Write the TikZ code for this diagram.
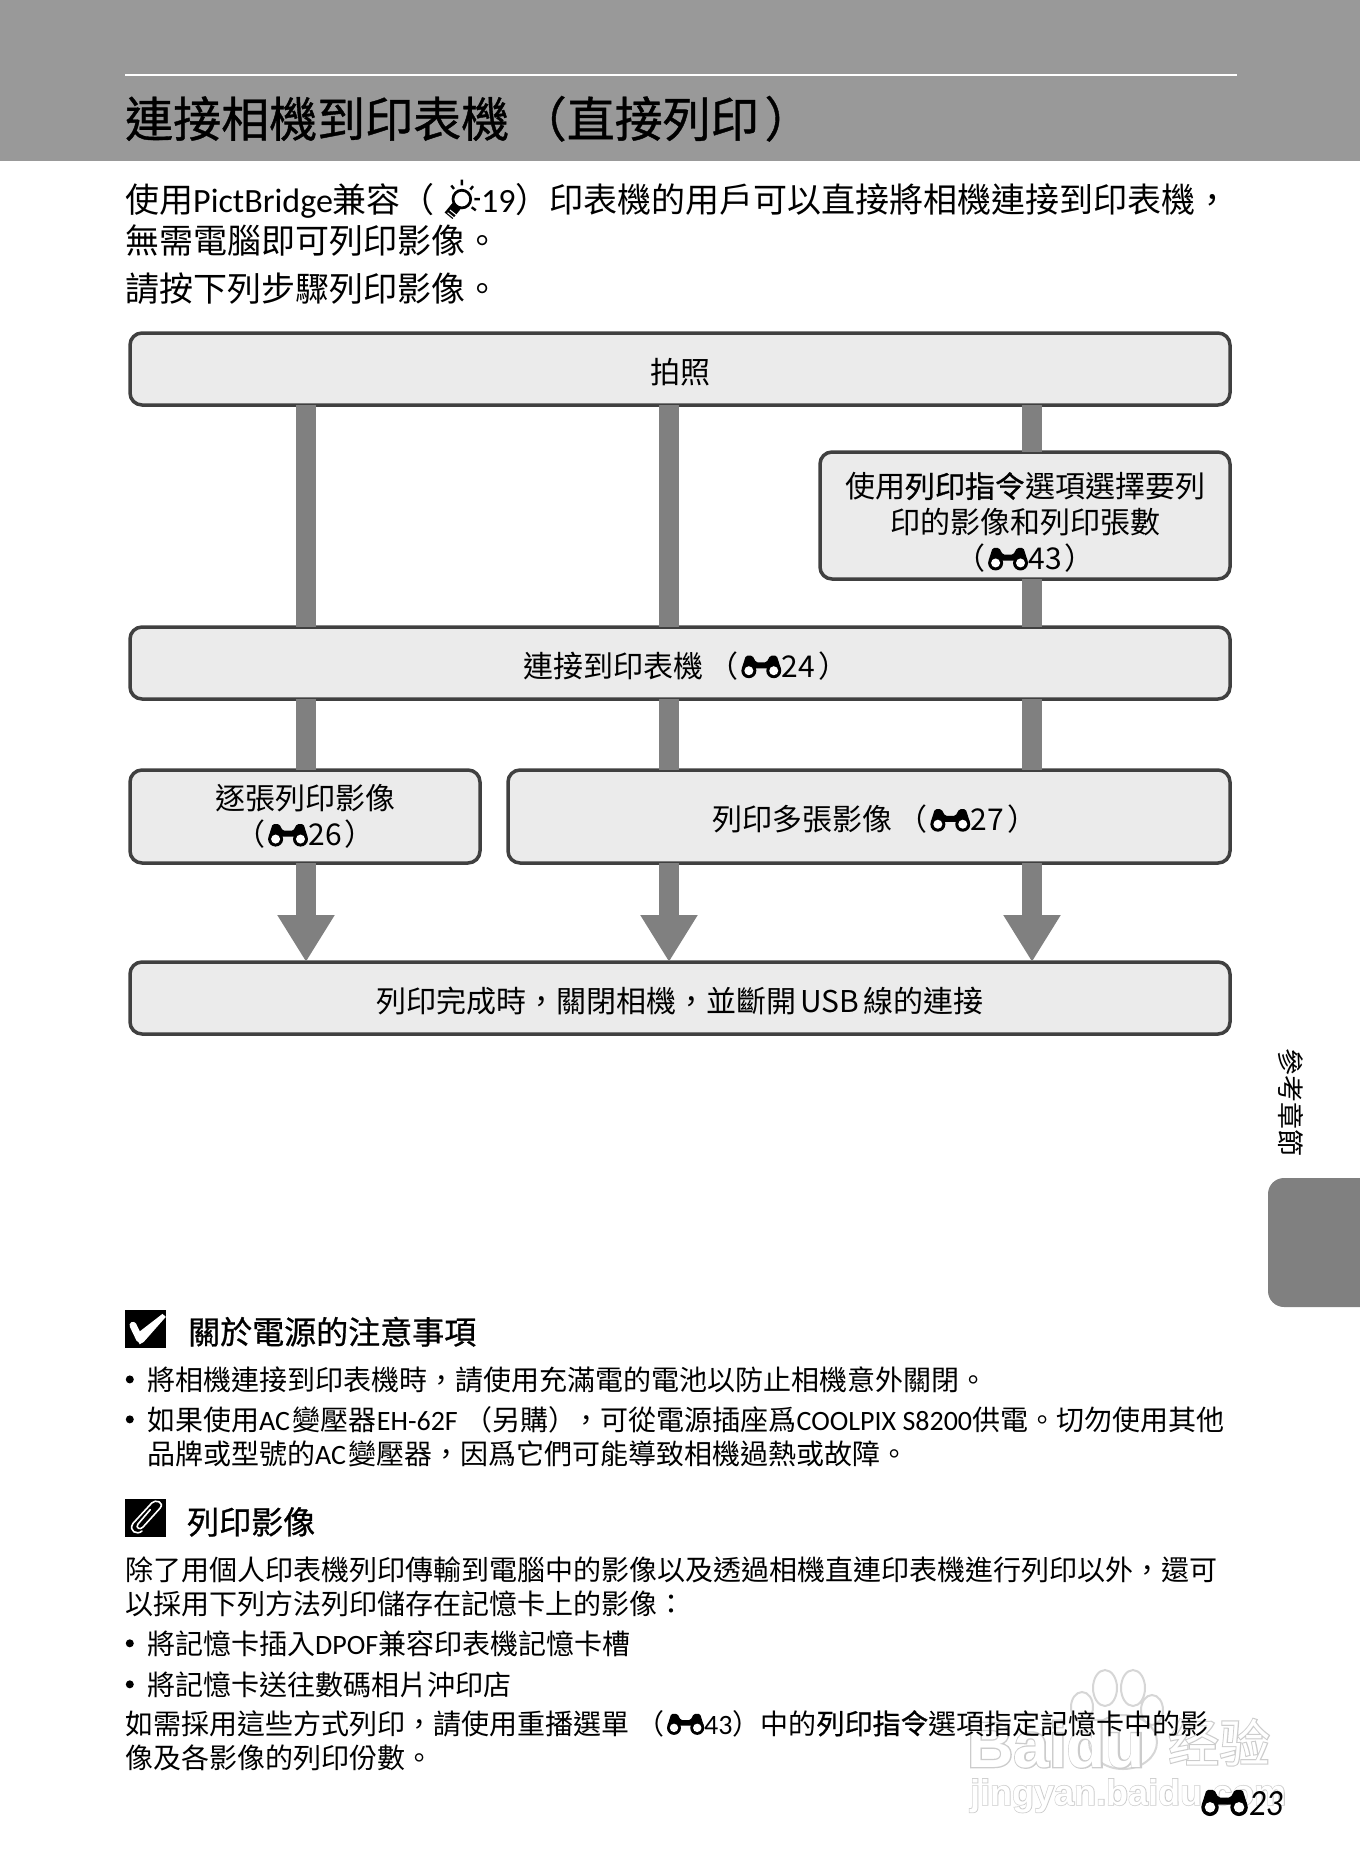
\documentclass[tikz,border=0pt]{standalone}
\usepackage{fontspec}
\usetikzlibrary{positioning,arrows.meta}
\setmainfont{Noto Sans CJK TC}
\newfontfamily\headfont[FakeBold=0.8]{Noto Sans CJK TC}
\newfontfamily\carlito{Carlito}
\newfontfamily\stampfont[BoldFeatures={FakeBold=0}]{Liberation Sans}
\newfontfamily\stampedge[BoldFeatures={FakeBold=4}]{Liberation Sans}
\newfontfamily\cjkedge[FakeBold=4]{Noto Sans CJK TC}
\newcommand{\fsize}[1]{\fontsize{#1}{36}\selectfont}
\newcommand{\lat}[1]{{\carlito #1}}
\newcommand{\binoc}{\tikz[x=1em,y=1em,baseline=0pt]{
	\fill[black] (.28,.22) circle (.25) (1.11,.22) circle (.25);
	\fill[black, rounded corners=.05em] (.04,.28) -- (.18,.72) -- (.40,.72) -- (.52,.5) -- (.87,.5) -- (.99,.72) -- (1.21,.72) -- (1.35,.28) -- (.87,.3) -- (.52,.3) -- cycle;
	\fill[white] (.28,.22) circle (.15) (1.11,.22) circle (.15);}}
\newcommand{\binref}[1]{（\kern.1em\binoc\kern.02em #1\kern.1em）}
\newcommand{\bulbicon}{\tikz[x=1em,y=1em,baseline=0pt]{
	\draw[black,line width=.08em] (.59,.38) circle (.26);
	\draw[black,line width=.3em] (.43,.17) -- (.2,-.11);
	\draw[white,line width=.03em] (.24,.06) -- (.44,-.1) (.17,-.02) -- (.37,-.18);
	\draw[black,line width=.07em] (.59,.78) -- (.59,.95) (.36,.68) -- (.28,.78) (.84,.66) -- (.92,.76) (.96,.38) -- (1.12,.38) (.88,.14) -- (1.0,.05);}}

\begin{document}
\begin{tikzpicture}[x=1pt,y=-1pt]
	\tikzstyle{stepbox}=[rectangle, rounded corners=12pt, draw=black!75, line width=3.5pt, outer sep=0pt, fill=black!8, align=center, inner sep=0pt, font=\fsize{30}, execute at begin node={\rule{0pt}{1.05em}}]
	\tikzstyle{shaft}=[line width=20pt, draw=black!50]
	\tikzstyle{arrowshaft}=[shaft, -{Triangle[width=54pt,length=47pt]}]
	\tikzstyle{intro}=[anchor=base west, inner sep=0pt, font=\fsize{34}]
	\tikzstyle{body}=[anchor=base west, inner sep=0pt, font=\fsize{28}]
	\tikzstyle{head}=[anchor=base west, inner sep=0pt, font=\headfont\fsize{32}]
	\tikzstyle{bulletdot}=[circle, fill=black, inner sep=0pt, minimum size=8pt, node distance=13pt]
	\tikzstyle{iconbox}=[rectangle, fill=black, inner sep=0pt, minimum width=41pt, minimum height=38pt]
	\tikzstyle{stampedge}=[anchor=base west, inner sep=0pt, text=black!20]
	\tikzstyle{stamptop}=[anchor=base west, inner sep=0pt, text=white]
	\tikzstyle{pawpad}=[draw=black!16, line width=2pt, fill=white]
	\useasboundingbox (0,0) rectangle (1360,1872);

	% header band
	\fill[black!40] (0,0) rectangle (1360,161);
	\draw[white, line width=2pt] (125,75) -- (1237,75);
	\node (title) [anchor=base west, inner sep=0pt, font=\headfont\fsize{48}] at (125,137) {連接相機到印表機\kern.2em（直接列印\kern.12em）};

	\node (intro1) [intro] at (125,212) {使用\lat{PictBridge}兼容（\kern.25em\bulbicon\lat{19}）印表機的用戶可以直接將相機連接到印表機，};
	\node (intro2) [intro] at (125,253) {無需電腦即可列印影像。};
	\node (intro3) [intro] at (125,301) {請按下列步驟列印影像。};

	% flow boxes
	\node (photo) [stepbox, minimum width=1100pt, minimum height=72pt] at (680,369) {拍照};
	\node (order) [stepbox, minimum width=410pt, minimum height=127pt, below=47pt of photo.south east, anchor=north east] {\rule{0pt}{1.3em}使用{\headfont 列印指令}選項選擇要列\\印的影像和列印張數\\\binref{43}};
	\node (connect) [stepbox, minimum width=1100pt, minimum height=72pt, below=222pt of photo] {\kern.4em連接到印表機\kern.15em\binref{24}};
	\node (single) [stepbox, minimum width=350pt, minimum height=93pt, below=71pt of connect.south west, anchor=north west] {逐張列印影像\\\binref{26}};
	\node (multi) [stepbox, minimum width=722pt, minimum height=93pt, below=71pt of connect.south east, anchor=north east] {\kern.4em列印多張影像\kern.15em\binref{27}};
	\node (finish) [stepbox, minimum width=1100pt, minimum height=72pt, below=263pt of connect] {列印完成時，關閉相機，並斷開\kern-.1em\ USB\ \kern-.1em 線的連接};

	\coordinate (colA) at (306,0);
	\coordinate (colB) at (669,0);
	\coordinate (colC) at (1032,0);
	\draw[shaft] (photo.south -| colA) -- (connect.north -| colA);
	\draw[shaft] (photo.south -| colB) -- (connect.north -| colB);
	\draw[shaft] (photo.south -| colC) -- (order.north -| colC);
	\draw[shaft] (order.south -| colC) -- (connect.north -| colC);
	\draw[shaft] (connect.south -| colA) -- (single.north -| colA);
	\draw[shaft] (connect.south -| colB) -- (multi.north -| colB);
	\draw[shaft] (connect.south -| colC) -- (multi.north -| colC);
	\draw[arrowshaft] (single.south -| colA) -- (finish.north -| colA);
	\draw[arrowshaft] (multi.south -| colB) -- (finish.north -| colB);
	\draw[arrowshaft] (multi.south -| colC) -- (finish.north -| colC);

	% side tab
	\node (sidetext) [rotate=-90, inner sep=0pt, font=\fsize{27}] at (1291,1102) {參考章節};
	\fill[black!50, rounded corners=16pt] (1268,1178) rectangle (1400,1307);

	% watermark
	\draw[pawpad] (1105,1688) ellipse (12 and 18) (1133,1688) ellipse (12 and 18) (1082,1707) ellipse (11 and 15) (1152,1710) ellipse (11 and 15);
	\draw[pawpad] (1123,1742) ellipse (34 and 27);
	\node (baiduedge) [stampedge, font=\stampedge\bfseries\fsize{64}] at (967,1767) {Baidu};
	\node (wordedge) [stampedge, font=\cjkedge\fsize{51}] at (1168,1762) {经验};
	\node (urledge) [stampedge, font=\stampedge\bfseries\fsize{36}] at (970,1805) {jingyan.baidu.com};
	\node (baidutop) [stamptop, font=\stampfont\bfseries\fsize{64}] at (967,1767) {Baidu};
	\node (wordtop) [stamptop, font=\fsize{51}] at (1168,1762) {经验};
	\node (urltop) [stamptop, font=\stampfont\bfseries\fsize{36}] at (970,1805) {jingyan.baidu.com};

	% first note
	\node (checkicon) [iconbox] at (145.5,1328.5) {};
	\begin{scope}[shift={(checkicon.north west)},x=41pt,y=-38pt]
		\draw[white, line width=7pt, line cap=round] (.2,.42) -- (.36,.78);
		\fill[white] (.27,.66) -- (.92,.12) -- (1,.2) -- (.46,.86) -- (.36,.92) -- cycle;
	\end{scope}
	\node (notehead) [head] at (188,1344) {關於電源的注意事項};
	\node (note1) [body] at (147,1390) {將相機連接到印表機時，請使用充滿電的電池以防止相機意外關閉。};
	\node (note2) [body] at (147,1430) {如果使用\lat{AC}\kern.1em 變壓器\lat{EH-62F}\kern.25em（另購）\kern-.15em，可從電源插座爲\lat{COOLPIX S8200}供電。切勿使用其他};
	\node (note3) [body] at (147,1464) {品牌或型號的\lat{AC}\kern.1em 變壓器，因爲它們可能導致相機過熱或故障。};
	\node (dot1) [bulletdot, left=of note1] {};
	\node (dot2) [bulletdot, left=of note2] {};

	% second note
	\node (clipicon) [iconbox] at (145.5,1517.5) {};
	\begin{scope}[shift={(clipicon.north west)},x=41pt,y=-38pt]
		\draw[white, line width=1.6pt, line join=round, line cap=round] (.62,.3) -- (.32,.68) .. controls (.25,.78) and (.38,.84) .. (.44,.76) -- (.86,.26) .. controls (.98,.1) and (.74,.02) .. (.66,.12) -- (.2,.66) .. controls (.08,.86) and (.3,.98) .. (.42,.86);
	\end{scope}
	\node (printhead) [head] at (187,1534) {列印影像};
	\node (para1) [body] at (125,1580) {除了用個人印表機列印傳輸到電腦中的影像以及透過相機直連印表機進行列印以外，還可};
	\node (para2) [body] at (125,1614) {以採用下列方法列印儲存在記憶卡上的影像：};
	\node (item1) [body] at (147,1654) {將記憶卡插入\lat{DPOF}兼容印表機記憶卡槽};
	\node (item2) [body] at (147,1695) {將記憶卡送往數碼相片沖印店};
	\node (dot3) [bulletdot, left=of item1] {};
	\node (dot4) [bulletdot, left=of item2] {};
	\node (para3) [body] at (125,1734) {如需採用這些方式列印，請使用重播選單\kern.25em（\kern.1em\binoc\lat{43}）中的{\headfont 列印指令}選項指定記憶卡中的影};
	\node (para4) [body] at (125,1768) {像及各影像的列印份數。};

	\node (pagenum) [anchor=base east, inner sep=0pt, xscale=.9, font=\carlito\itshape\fsize{37}] at (1283,1815) {23};
	\node (pagebin) [anchor=base east, inner sep=0pt, font=\fsize{35}] at (1248,1815) {\binoc};
\end{tikzpicture}
\end{document}
